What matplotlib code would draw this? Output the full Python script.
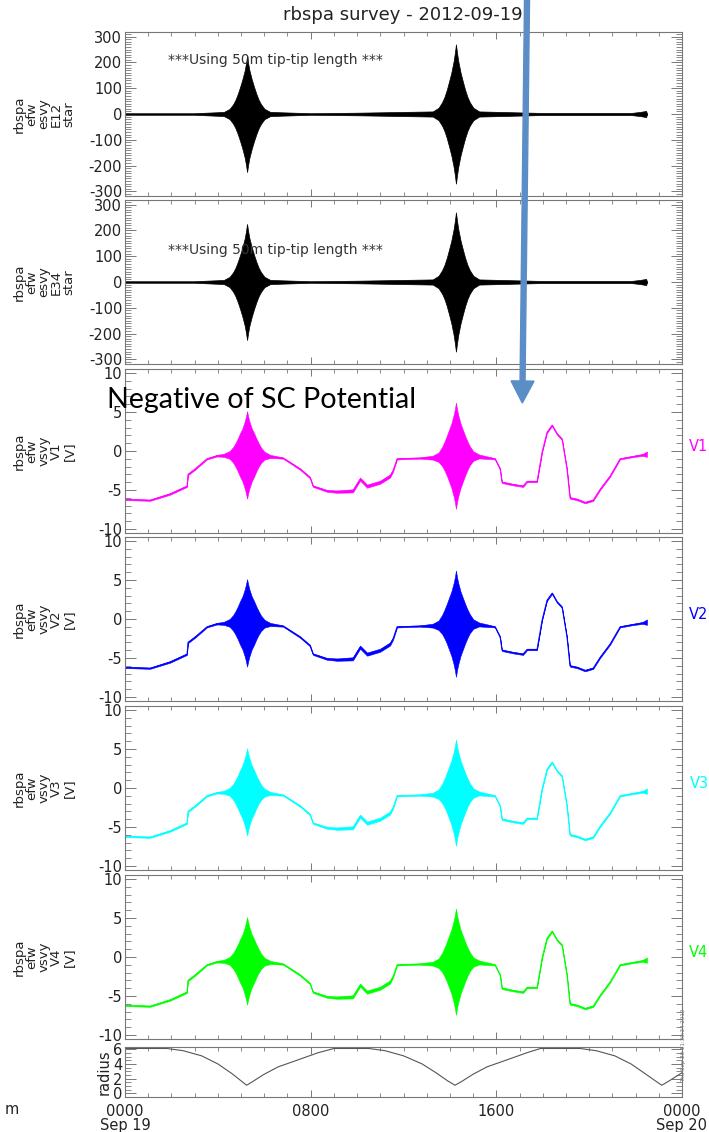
import numpy as np
import matplotlib
matplotlib.use("Agg")
import matplotlib.pyplot as plt
from matplotlib.patches import FancyArrow
from matplotlib.ticker import MultipleLocator

plt.rcParams['font.family'] = ['DejaVu Sans']
plt.rcParams['axes.unicode_minus'] = False

# ---- data (time in hours from 0000 Sep 19) ----
# E12 / E34 spin-fit envelope, centred on zero
t_e = [0.0, 3.0,
       4.26, 4.51, 4.66, 4.76, 4.86, 4.96, 5.06, 5.16, 5.21, 5.26, 5.31, 5.36, 5.46, 5.56,
       5.66, 5.76, 5.86, 6.01, 6.26,
       8.0, 10.0,
       13.26, 13.51, 13.66, 13.76, 13.86, 13.96, 14.06, 14.16, 14.21, 14.26, 14.31, 14.36,
       14.46, 14.56, 14.66, 14.76, 14.86, 15.01, 15.26,
       18.0, 21.8, 22.2, 22.45, 22.49]
amp_e = [3, 3,
         8, 20, 38, 55, 78, 105, 135, 170, 195, 225, 195, 170, 135, 105,
         78, 55, 38, 20, 8,
         3, 5,
         10, 24, 45, 65, 92, 125, 160, 205, 235, 270, 235, 205,
         160, 125, 92, 65, 45, 24, 10,
         4, 4, 8, 12, 3]

# V1..V4 probe potentials: baseline and half-width of the spin oscillation
t_v = [0.00, 1.08, 1.94, 2.67, 2.71, 3.02, 3.53, 3.96,
       4.26, 4.51, 4.66, 4.76, 4.86, 4.96, 5.06, 5.16, 5.21, 5.26, 5.31, 5.36, 5.46, 5.56,
       5.66, 5.76, 5.86, 6.01, 6.26,
       6.81, 7.54, 7.97, 8.10, 8.70, 9.13, 9.82, 10.13, 10.43, 10.99, 11.42, 11.55, 11.72, 12.71,
       13.26, 13.51, 13.66, 13.76, 13.86, 13.96, 14.06, 14.16, 14.21, 14.26, 14.31, 14.36,
       14.46, 14.56, 14.66, 14.76, 14.86, 15.01, 15.26,
       15.94, 16.16, 16.24, 16.72, 17.15, 17.32, 17.75, 17.97, 18.18, 18.40, 18.61, 18.83,
       19.04, 19.17, 19.48, 19.82, 20.17, 20.47, 20.90, 21.33, 21.89, 22.30, 22.49]
base_v = [-6.2, -6.3, -5.5, -4.5, -3.0, -2.3, -1.0, -0.6,
          -0.55, -0.5, -0.5, -0.5, -0.5, -0.5, -0.5, -0.5, -0.5, -0.5, -0.5, -0.5, -0.5, -0.5,
          -0.5, -0.5, -0.55, -0.6, -0.7,
          -0.9, -2.3, -3.4, -4.5, -5.1, -5.2, -5.1, -3.6, -4.5, -4.0, -3.2, -2.5, -1.0, -0.9,
          -0.85, -0.8, -0.7, -0.65, -0.6, -0.6, -0.6, -0.6, -0.6, -0.6, -0.6, -0.6,
          -0.6, -0.6, -0.6, -0.6, -0.6, -0.65, -0.7,
          -1.0, -2.3, -4.0, -4.3, -4.5, -3.9, -3.9, -0.1, 2.4, 3.3, 2.2, 1.5,
          -2.3, -6.0, -6.2, -6.6, -6.3, -4.9, -3.2, -1.0, -0.7, -0.5, -0.4]
amp_v = [0.08, 0.08, 0.1, 0.1, 0.1, 0.1, 0.08, 0.1,
         0.2, 0.5, 1.0, 1.5, 2.1, 2.8, 3.4, 4.3, 4.9, 5.6, 4.9, 4.3, 3.4, 2.8,
         2.1, 1.5, 1.0, 0.5, 0.2,
         0.08, 0.1, 0.1, 0.1, 0.12, 0.15, 0.2, 0.2, 0.2, 0.2, 0.2, 0.15, 0.08, 0.08,
         0.25, 0.6, 1.2, 1.8, 2.5, 3.3, 4.1, 5.2, 5.9, 6.8, 5.9, 5.2,
         4.1, 3.3, 2.5, 1.8, 1.2, 0.6, 0.25,
         0.08, 0.1, 0.1, 0.1, 0.1, 0.1, 0.1, 0.1, 0.1, 0.1, 0.1, 0.1,
         0.1, 0.1, 0.1, 0.1, 0.1, 0.1, 0.1, 0.08, 0.08, 0.12, 0.35]

# orbital radius (RE)
t_r = [0.0, 1.8, 2.5, 3.3, 4.0, 4.6, 5.0, 5.24, 5.5, 6.0, 6.6, 7.5, 8.3, 9.0,
       10.5, 11.2, 12.0, 12.8, 13.4, 13.9, 14.22, 14.5, 15.0, 15.6, 16.5, 17.3, 17.9,
       19.6, 20.3, 21.1, 21.8, 22.4, 22.85, 23.13, 23.4, 23.9, 24.0]
r_val = [6.1, 6.1, 5.8, 5.1, 4.0, 2.7, 1.7, 1.1, 1.6, 2.6, 3.6, 4.6, 5.5, 6.1,
         6.1, 5.8, 5.1, 4.0, 2.8, 1.7, 1.1, 1.6, 2.6, 3.6, 4.6, 5.5, 6.1,
         6.1, 5.8, 5.1, 4.0, 2.7, 1.7, 1.1, 1.6, 2.6, 2.8]

e_names = ['E12', 'E34']
v_names = ['V1', 'V2', 'V3', 'V4']
v_colors = ['#ff00ff', '#0000ff', '#00ffff', '#00ff00']
x_ticklabels = ['0000\nSep 19', '0800', '1600', '0000\nSep 20']

W, H = 709, 1132
X0, X1 = 125, 682
fig = plt.figure(figsize=(W / 100, H / 100), dpi=100)


def panel(top, bottom):
    ax = fig.add_axes([X0 / W, 1 - bottom / H, (X1 - X0) / W, (bottom - top) / H])
    ax.set_xlim(0, 24)
    ax.xaxis.set_major_locator(MultipleLocator(8))
    ax.xaxis.set_minor_locator(MultipleLocator(1))
    ax.tick_params(which='both', direction='in', top=True, right=True,
                   color='#777777', labelsize=10.5, labelcolor='#222222', pad=2)
    ax.tick_params(which='major', length=8, width=0.7)
    ax.tick_params(which='minor', length=4, width=0.6)
    ax.tick_params(axis='x', which='major', length=5)
    ax.tick_params(axis='x', which='minor', length=3)
    for s in ax.spines.values():
        s.set_color('#777777')
        s.set_linewidth(0.8)
    ax.set_xticklabels([])
    return ax


def ylab(ax, text):
    y0, y1 = ax.get_position().y0, ax.get_position().y1
    fig.text(44 / W, (y0 + y1) / 2, text, rotation=90, ha='center', va='center',
             multialignment='center', fontsize=9.5, linespacing=0.95, color='#222222')


tv = np.array(t_v)
bv = np.array(base_v)
av = np.array(amp_v)
te = np.array(t_e)
ae = np.array(amp_e)

# electric field panels
e_pos = [(32, 196), (200, 364)]
note_y = [210, 125]
for name, (top, bot), ny in zip(e_names, e_pos, note_y):
    ax = panel(top, bot)
    ax.fill_between(te, -ae, ae, color='black', lw=0.5)
    ax.plot(te, np.zeros_like(te), color='black', lw=0.7)
    ax.set_ylim(-318, 318)
    ax.yaxis.set_major_locator(MultipleLocator(100))
    ax.yaxis.set_minor_locator(MultipleLocator(10))
    ax.text(1.85, ny, '***Using 50m tip-tip length ***', fontsize=10,
            color='#333333', va='center')
    ylab(ax, 'rbspa\nefw\nesvy\n' + name + '\nstar')

# probe potential panels
v_pos = [(369, 533), (537, 701), (706, 870), (875, 1039)]
for name, c, (top, bot) in zip(v_names, v_colors, v_pos):
    ax = panel(top, bot)
    ax.fill_between(tv, bv - av, bv + av, color=c, lw=0.4)
    ax.plot(tv, bv, color=c, lw=0.6)
    ax.set_ylim(-10.5, 10.5)
    ax.yaxis.set_major_locator(MultipleLocator(5))
    ax.yaxis.set_minor_locator(MultipleLocator(1))
    ylab(ax, 'rbspa\nefw\nvsvy\n' + name + '\n[V]')
    y0, y1 = ax.get_position().y0, ax.get_position().y1
    fig.text(699 / W, (y0 + y1) / 2 + 0.004, name, color=c, fontsize=10.5,
             ha='center', va='center')

# orbital radius panel
ax = panel(1047, 1097)
ax.plot(t_r, r_val, color='#555555', lw=0.8)
ax.set_ylim(-0.5, 6.3)
ax.yaxis.set_major_locator(MultipleLocator(2))
ax.yaxis.set_minor_locator(MultipleLocator(0.5))
ax.set_xticks([0, 8, 16, 24])
ax.set_xticklabels(x_ticklabels, linespacing=0.95)
ax.tick_params(axis='x', pad=5)
ax.set_ylabel('radius', fontsize=10.5, color='#222222', labelpad=1)

# title and annotations
fig.text(403 / W, 1 - 15 / H, 'rbspa survey - 2012-09-19', fontsize=13,
         ha='center', va='center', color='#222222')
fig.text(5 / W, 1 - 1110 / H, 'm', fontsize=10.5, color='#222222', va='center')
fig.text(684 / W, 1 - 1045 / H, 'Thu Sep 20 11:30:34 2012', fontsize=4, rotation=90,
         ha='center', va='center', color='#777777')
fig.text(107 / W, 1 - 408 / H, 'Negative of SC Potential', family=['Lato', 'DejaVu Sans'],
         fontsize=20.6, ha='left', va='baseline', color='black')

# hand-drawn pointer arrow
arrow = FancyArrow(5.27, H / 100, -0.047, -4.03, width=0.05, head_width=0.23,
                   head_length=0.22, length_includes_head=True, color='#5b8ec6',
                   transform=fig.dpi_scale_trans)
fig.add_artist(arrow)

plt.savefig('out.png', dpi=100)
plt.close('all')
